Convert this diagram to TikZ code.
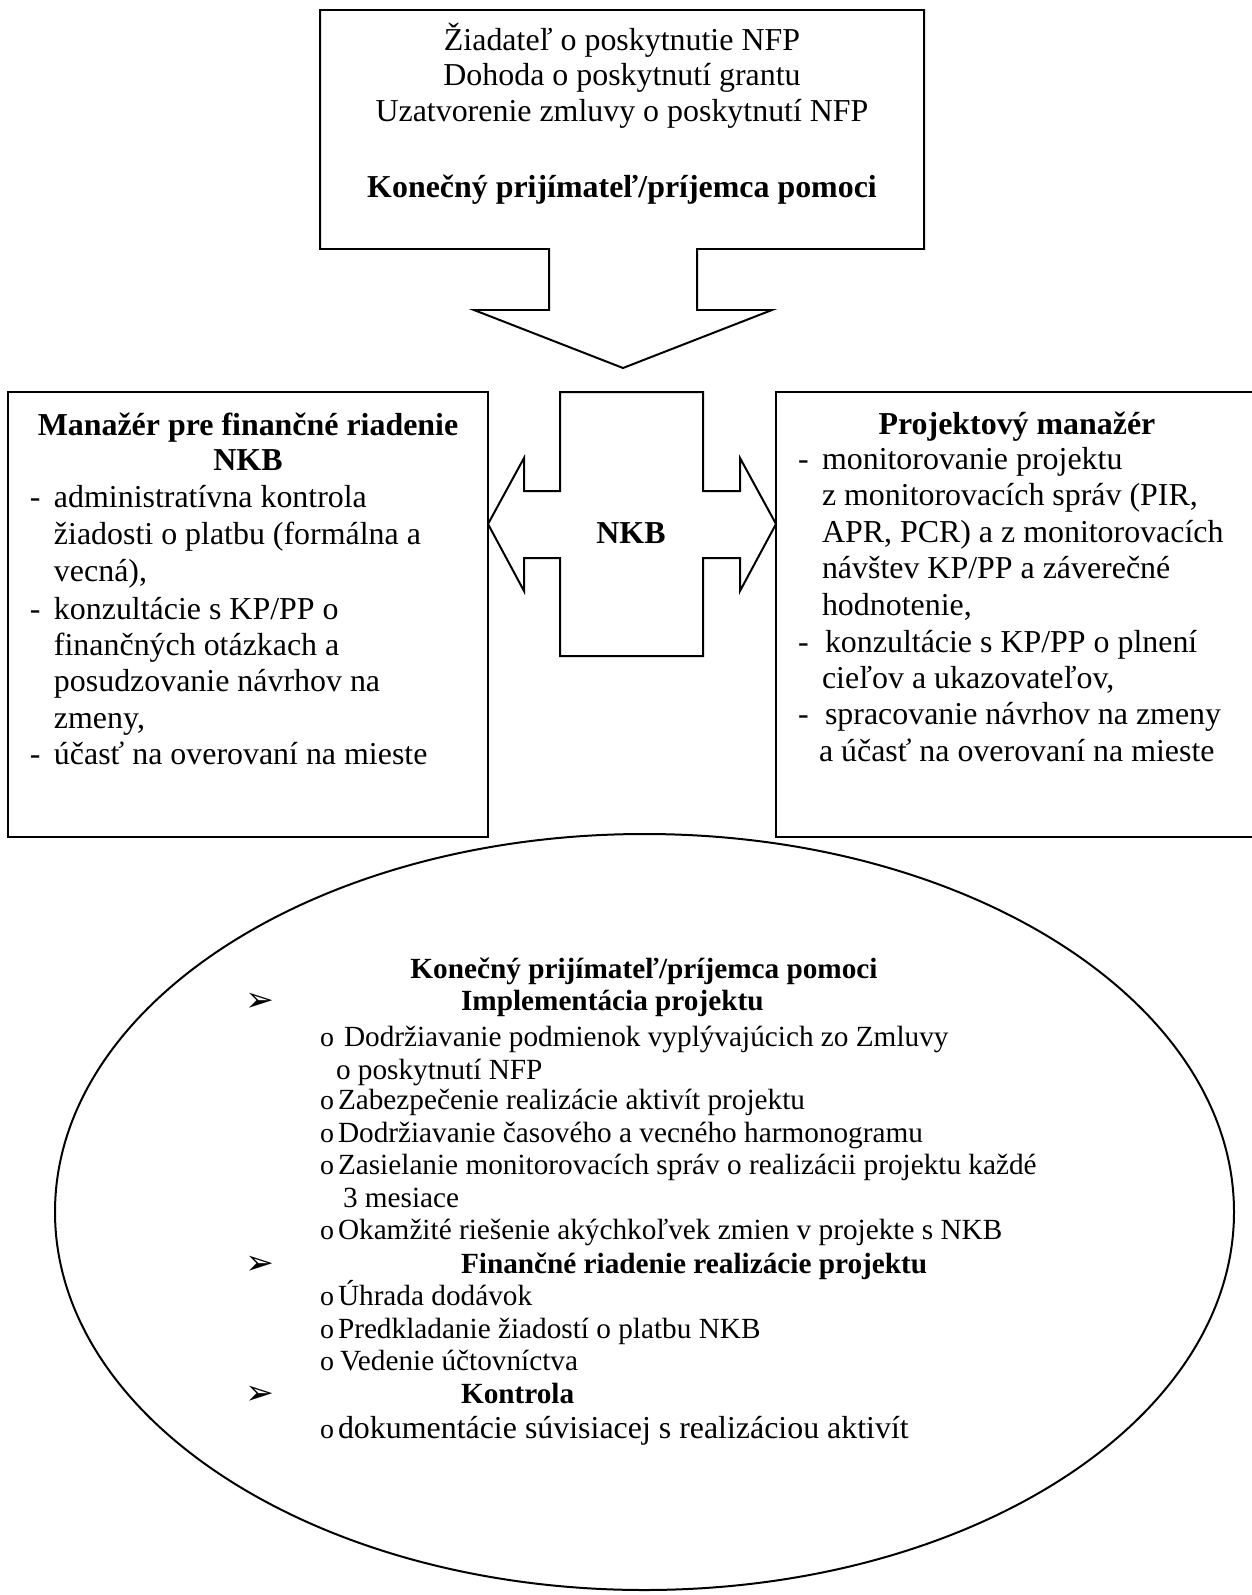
\documentclass[tikz,border=0pt]{standalone}
\usepackage{fontspec}
\setmainfont{Liberation Serif}
\newfontfamily\dingfont{DejaVu Sans}
\begin{document}
\begin{tikzpicture}[x=0.376pt, y=-0.376pt, line width=0.75pt, line join=miter,
  lt/.style={inner sep=0pt, anchor=base west, font=\fontsize{12}{14}\selectfont},
  ct/.style={inner sep=0pt, anchor=base, font=\fontsize{12}{14}\selectfont},
  cb/.style={inner sep=0pt, anchor=base, font=\fontsize{12}{14}\selectfont\bfseries},
  et/.style={inner sep=0pt, anchor=base west, font=\fontsize{11}{13}\selectfont},
  ebul/.style={inner sep=0pt, anchor=base west, font=\fontsize{10.5}{12}\selectfont},
  eb/.style={inner sep=0pt, anchor=base west, font=\fontsize{11}{13}\selectfont\bfseries},
  ec/.style={inner sep=0pt, anchor=base, font=\fontsize{11}{13}\selectfont\bfseries},
  arr/.style={inner sep=0pt, anchor=base west, font=\dingfont\bfseries\fontsize{13}{15}\selectfont}]
\useasboundingbox[fill=white] (0,0) rectangle (1251,1595);

% top callout box with downward arrow
\draw (320,10) -- (924,10) -- (924,249) -- (697,249) -- (697,310) -- (772,310)
  -- (623,368) -- (474,310) -- (549,310) -- (549,249) -- (320,249) -- cycle;
\node[ct] (top1) at (622,51) {Žiadateľ o poskytnutie NFP};
\node[ct] (top2) at (622,86) {Dohoda o poskytnutí grantu};
\node[ct] (top3) at (622,122) {Uzatvorenie zmluvy o poskytnutí NFP};
\node[cb] (top4) at (622,197) {Konečný prijímateľ/príjemca pomoci};

% central left-right arrow callout
\draw (560,392) -- (703,392) -- (703,491) -- (740,491) -- (740,458) -- (776,524)
  -- (740,591) -- (740,558) -- (703,558) -- (703,656) -- (560,656) -- (560,558)
  -- (524,558) -- (524,591) -- (488,524) -- (524,458) -- (524,491) -- (560,491) -- cycle;
\node[cb] (nkb) at (631,543) {NKB};

% left box
\draw (8,392) rectangle (488,837);
\node[cb] (l0) at (248,435) {Manažér pre finančné riadenie};
\node[cb] (l1) at (248,470) {NKB};
\node[lt] (ld1) at (29,507) {-};
\node[lt] (l2) at (53,507) {administratívna kontrola};
\node[lt] (l3) at (53,544) {žiadosti o platbu (formálna a};
\node[lt] (l4) at (53,581) {vecná),};
\node[lt] (ld2) at (29,619) {-};
\node[lt] (l5) at (53,619) {konzultácie s KP/PP o};
\node[lt] (l6) at (53,655) {finančných otázkach a};
\node[lt] (l7) at (53,691) {posudzovanie návrhov na};
\node[lt] (l8) at (53,728) {zmeny,};
\node[lt] (ld3) at (29,764) {-};
\node[lt] (l9) at (53,764) {účasť na overovaní na mieste};

% right box
\draw (776,392) rectangle (1258,837);
\node[cb] (r0) at (1017,434) {Projektový manažér};
\node[lt] (rd1) at (797,469) {-};
\node[lt] (r1) at (821,469) {monitorovanie projektu};
\node[lt] (r2) at (821,505) {z monitorovacích správ (PIR,};
\node[lt] (r3) at (821,542) {APR, PCR) a z monitorovacích};
\node[lt] (r4) at (821,578) {návštev KP/PP a záverečné};
\node[lt] (r5) at (821,615) {hodnotenie,};
\node[lt] (rd2) at (797,652) {-};
\node[lt] (r6) at (824,652) {konzultácie s KP/PP o plnení};
\node[lt] (r7) at (821,688) {cieľov a ukazovateľov,};
\node[lt] (rd3) at (797,724) {-};
\node[lt] (r8) at (824,724) {spracovanie návrhov na zmeny};
\node[lt] (r9) at (818,761) {a účasť na overovaní na mieste};

% ellipse with the beneficiary's tasks
\draw (644.5,1212) ellipse [x radius=589.5, y radius=378];
\node[ec] (e0) at (644,978) {Konečný prijímateľ/príjemca pomoci};
\node[arr] (a1) at (244,1011) {➢};
\node[eb] (h1) at (460,1010) {Implementácia projektu};
\node[ebul] (b1) at (319,1046) {o};
\node[et] (i1) at (343,1046) {Dodržiavanie podmienok vyplývajúcich zo Zmluvy};
\node[et] (i1b) at (335,1079) {o poskytnutí NFP};
\node[ebul] (b2) at (319,1109) {o};
\node[et] (i2) at (337,1109) {Zabezpečenie realizácie aktivít projektu};
\node[ebul] (b3) at (319,1142) {o};
\node[et] (i3) at (337,1142) {Dodržiavanie časového a vecného harmonogramu};
\node[ebul] (b4) at (319,1174) {o};
\node[et] (i4) at (337,1174) {Zasielanie monitorovacích správ o realizácii projektu každé};
\node[et] (i4b) at (342,1207) {3 mesiace};
\node[ebul] (b5) at (319,1239) {o};
\node[et] (i5) at (337,1239) {Okamžité riešenie akýchkoľvek zmien v projekte s NKB};
\node[arr] (a2) at (244,1274) {➢};
\node[eb] (h2) at (460,1273) {Finančné riadenie realizácie projektu};
\node[ebul] (b6) at (319,1305) {o};
\node[et] (i6) at (337,1305) {Úhrada dodávok};
\node[ebul] (b7) at (319,1338) {o};
\node[et] (i7) at (337,1338) {Predkladanie žiadostí o platbu NKB};
\node[ebul] (b8) at (319,1370) {o};
\node[et] (i8) at (339,1370) {Vedenie účtovníctva};
\node[arr] (a3) at (244,1404) {➢};
\node[eb] (h3) at (460,1403) {Kontrola};
\node[ebul] (b9) at (319,1438) {o};
\node[lt] (i9) at (337,1438) {dokumentácie súvisiacej s realizáciou aktivít};
\end{tikzpicture}
\end{document}
